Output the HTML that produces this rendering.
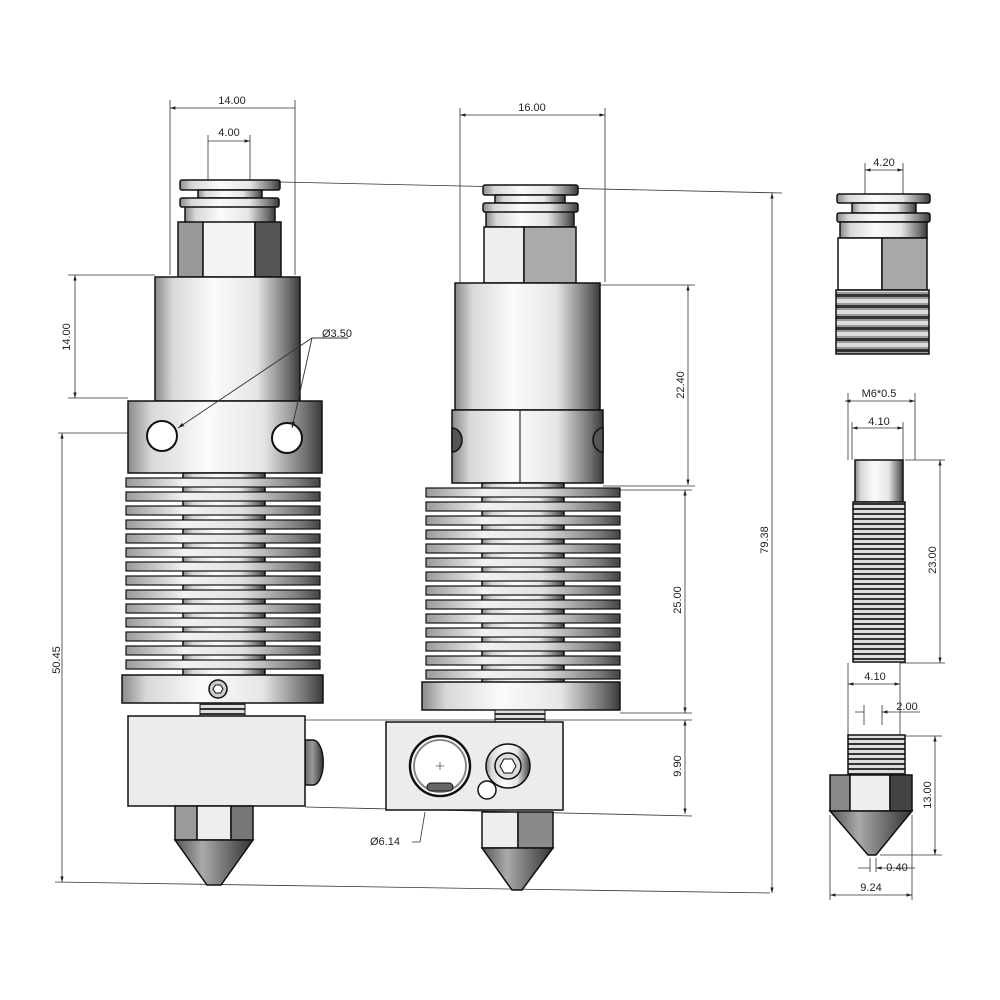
<!DOCTYPE html>
<html><head><meta charset="utf-8"><style>
html,body{margin:0;padding:0;background:#fff}
svg{display:block}
text{font-family:"Liberation Sans",sans-serif;font-size:11px;fill:#222}
</style></head><body>
<svg width="1000" height="1000" viewBox="0 0 1000 1000" xmlns="http://www.w3.org/2000/svg">
<defs>
<linearGradient id="m" x1="0" x2="1" y1="0" y2="0">
<stop offset="0" stop-color="#8a8a8a"/><stop offset="0.12" stop-color="#d8d8d8"/><stop offset="0.4" stop-color="#fbfbfb"/><stop offset="0.7" stop-color="#e6e6e6"/><stop offset="0.92" stop-color="#6e6e6e"/><stop offset="1" stop-color="#3a3a3a"/>
</linearGradient>
<linearGradient id="f" x1="0" x2="1" y1="0" y2="0">
<stop offset="0" stop-color="#9a9a9a"/><stop offset="0.3" stop-color="#f2f2f2"/><stop offset="0.6" stop-color="#e0e0e0"/><stop offset="0.9" stop-color="#777"/><stop offset="1" stop-color="#444"/>
</linearGradient>
<linearGradient id="d" x1="0" x2="1" y1="0" y2="0">
<stop offset="0" stop-color="#666"/><stop offset="0.4" stop-color="#999"/><stop offset="1" stop-color="#333"/>
</linearGradient>
<linearGradient id="cone" x1="0" x2="1"><stop offset="0" stop-color="#555"/><stop offset="0.35" stop-color="#aaa"/><stop offset="1" stop-color="#333"/></linearGradient>
<pattern id="thr" width="10" height="5" patternUnits="userSpaceOnUse"><rect width="10" height="5" fill="#ddd"/><rect y="3" width="10" height="2" fill="#333"/></pattern>
<pattern id="thr2" width="10" height="11" patternUnits="userSpaceOnUse"><rect width="10" height="11" fill="#999"/><rect y="2" width="10" height="4" fill="#ddd"/><rect y="8" width="10" height="3" fill="#333"/></pattern>
<marker id="a" viewBox="0 0 10 10" refX="10" refY="5" markerWidth="7" markerHeight="7" orient="auto-start-reverse"><path d="M0,2 L10,5 L0,8z" fill="#222"/></marker>
</defs>

<g stroke="#333" stroke-width="0.8" fill="none">
<path d="M170 100V275M295 100V275M208 135V180M250 135V180"/>
<path d="M170 108H295M208 141H250" marker-start="url(#a)" marker-end="url(#a)"/>
<path d="M68 275H155M68 398H128"/>
<path d="M75 275V398" marker-start="url(#a)" marker-end="url(#a)"/>
<path d="M58 433H128"/>
<path d="M62 433V882" marker-start="url(#a)" marker-end="url(#a)"/>
<path d="M55 882L770 893"/>
<path d="M280 182L782 193"/>
<path d="M772 193V893" marker-start="url(#a)" marker-end="url(#a)"/>
<path d="M460 108V285M605 108V282"/>
<path d="M460 115H605" marker-start="url(#a)" marker-end="url(#a)"/>
<path d="M600 285H695M603 486H695M620 490H692M620 713H692"/>
<path d="M688 285V485" marker-start="url(#a)" marker-end="url(#a)"/>
<path d="M685 490V713" marker-start="url(#a)" marker-end="url(#a)"/>
<path d="M305 720H692M305 807L692 816"/>
<path d="M685 720V814" marker-start="url(#a)" marker-end="url(#a)"/>
<path d="M412 842H420L425 812"/>
<path d="M865 163V194M903 163V194"/>
<path d="M865 170H903" marker-start="url(#a)" marker-end="url(#a)"/>
<path d="M848 393V460M915 393V460M852 422V460M903 422V460"/>
<path d="M845 401H915" marker-start="url(#a)" marker-end="url(#a)"/>
<path d="M852 428H903" marker-start="url(#a)" marker-end="url(#a)"/>
<path d="M905 460H945M900 663H945"/>
<path d="M940 460V663" marker-start="url(#a)" marker-end="url(#a)"/>
<path d="M848 663V735M900 663V735"/>
<path d="M848 684H900" marker-start="url(#a)" marker-end="url(#a)"/>
<path d="M864 705V725M882 705V725"/>
<path d="M855 712H864M892 712H882" marker-end="url(#a)"/>
<path d="M892 712H920"/>
<path d="M905 736H942M880 855H942"/>
<path d="M935 736V855" marker-start="url(#a)" marker-end="url(#a)"/>
<path d="M870 858V872M876 858V872"/>
<path d="M858 868H870M888 868H876" marker-end="url(#a)"/>
<path d="M888 868H915"/>
<path d="M830 815V900M912 815V900"/>
<path d="M830 895H912" marker-start="url(#a)" marker-end="url(#a)"/>
</g>

<g>
<text x="232" y="104" text-anchor="middle">14.00</text>
<text x="229" y="136" text-anchor="middle">4.00</text>
<text transform="translate(70,337) rotate(-90)" text-anchor="middle">14.00</text>
<text x="322" y="337">Ø3.50</text>
<text transform="translate(60,660) rotate(-90)" text-anchor="middle">50.45</text>
<text transform="translate(768,540) rotate(-90)" text-anchor="middle">79.38</text>
<text x="532" y="111" text-anchor="middle">16.00</text>
<text transform="translate(684,385) rotate(-90)" text-anchor="middle">22.40</text>
<text transform="translate(681,600) rotate(-90)" text-anchor="middle">25.00</text>
<text transform="translate(681,766) rotate(-90)" text-anchor="middle">9.90</text>
<text x="370" y="845">Ø6.14</text>
<text x="884" y="166" text-anchor="middle">4.20</text>
<text x="879" y="397" text-anchor="middle">M6*0.5</text>
<text x="879" y="425" text-anchor="middle">4.10</text>
<text transform="translate(936,560) rotate(-90)" text-anchor="middle">23.00</text>
<text x="875" y="680" text-anchor="middle">4.10</text>
<text x="907" y="710" text-anchor="middle">2.00</text>
<text transform="translate(931,795) rotate(-90)" text-anchor="middle">13.00</text>
<text x="897" y="871" text-anchor="middle">0.40</text>
<text x="871" y="891" text-anchor="middle">9.24</text>
</g>

<!-- LEFT ASSEMBLY -->
<g stroke="#111" stroke-width="1.5">
<rect x="185" y="205" width="90" height="18" fill="url(#m)"/>
<rect x="180" y="180" width="100" height="10" rx="2" fill="url(#m)"/>
<rect x="198" y="190" width="64" height="8" fill="url(#m)"/>
<rect x="180" y="198" width="99" height="9" rx="2" fill="url(#m)"/>
<rect x="178" y="222" width="25" height="55" fill="#999"/>
<rect x="203" y="222" width="52" height="55" fill="#f3f3f3"/>
<rect x="255" y="222" width="26" height="55" fill="#555"/>
<rect x="155" y="277" width="145" height="124" fill="url(#m)"/>
<rect x="128" y="401" width="194" height="72" fill="url(#m)"/>
<circle cx="162" cy="436" r="15" fill="#fff" stroke-width="2"/>
<circle cx="287" cy="438" r="15" fill="#fff" stroke-width="2"/>
<rect x="183" y="473" width="82" height="205" fill="url(#m)"/>
</g>
<g stroke="#111" stroke-width="1.2" fill="url(#f)">
<rect x="126" y="478" width="194" height="9"/><rect x="126" y="492" width="194" height="9"/><rect x="126" y="506" width="194" height="9"/><rect x="126" y="520" width="194" height="9"/><rect x="126" y="534" width="194" height="9"/><rect x="126" y="548" width="194" height="9"/><rect x="126" y="562" width="194" height="9"/><rect x="126" y="576" width="194" height="9"/><rect x="126" y="590" width="194" height="9"/><rect x="126" y="604" width="194" height="9"/><rect x="126" y="618" width="194" height="9"/><rect x="126" y="632" width="194" height="9"/><rect x="126" y="646" width="194" height="9"/><rect x="126" y="660" width="194" height="9"/>
</g>
<g stroke="#111" stroke-width="1.5">
<rect x="122" y="675" width="201" height="28" fill="url(#m)"/>
<circle cx="218" cy="689" r="9" fill="#ccc"/>
<path d="M213 689l2.5-4h5l2.5 4-2.5 4h-5z" fill="#fff" stroke-width="1"/>
<rect x="200" y="703" width="45" height="13" fill="url(#thr)" stroke-width="1"/>
<path d="M305 740h8a10 22 0 0 1 0 45h-8z" fill="url(#d)"/>
<rect x="128" y="716" width="177" height="90" fill="#ececec"/>
<rect x="175" y="806" width="22" height="34" fill="#9a9a9a"/>
<rect x="197" y="806" width="34" height="34" fill="#eee"/>
<rect x="231" y="806" width="22" height="34" fill="#777"/>
<path d="M175 840h78l-32 45h-14z" fill="url(#cone)"/>
</g>

<!-- MIDDLE ASSEMBLY -->
<g stroke="#111" stroke-width="1.5">
<rect x="486" y="205" width="88" height="22" fill="url(#m)"/>
<rect x="483" y="185" width="95" height="10" rx="2" fill="url(#m)"/>
<rect x="495" y="195" width="70" height="8" fill="url(#m)"/>
<rect x="483" y="203" width="95" height="9" rx="2" fill="url(#m)"/>
<rect x="484" y="227" width="40" height="56" fill="#eee"/>
<rect x="524" y="227" width="52" height="56" fill="#aaa"/>
<rect x="455" y="283" width="145" height="127" fill="url(#m)"/>
<rect x="452" y="410" width="151" height="73" fill="url(#m)"/>
<path d="M452 428a10 12 0 0 1 0 24z" fill="#555"/>
<path d="M603 428a10 12 0 0 0 0 24z" fill="#555"/>
<path d="M520 410V483" stroke-width="1"/>
<rect x="482" y="483" width="82" height="200" fill="url(#m)"/>
</g>
<g stroke="#111" stroke-width="1.2" fill="url(#f)">
<rect x="426" y="488" width="194" height="9"/><rect x="426" y="502" width="194" height="9"/><rect x="426" y="516" width="194" height="9"/><rect x="426" y="530" width="194" height="9"/><rect x="426" y="544" width="194" height="9"/><rect x="426" y="558" width="194" height="9"/><rect x="426" y="572" width="194" height="9"/><rect x="426" y="586" width="194" height="9"/><rect x="426" y="600" width="194" height="9"/><rect x="426" y="614" width="194" height="9"/><rect x="426" y="628" width="194" height="9"/><rect x="426" y="642" width="194" height="9"/><rect x="426" y="656" width="194" height="9"/><rect x="426" y="670" width="194" height="9"/>
</g>
<g stroke="#111" stroke-width="1.5">
<rect x="422" y="682" width="198" height="28" fill="url(#m)"/>
<rect x="495" y="710" width="50" height="12" fill="url(#thr)" stroke-width="1"/>
<rect x="386" y="722" width="177" height="88" fill="#ececec"/>
<circle cx="440" cy="766" r="30" fill="#fff" stroke-width="2.5"/>
<circle cx="440" cy="766" r="26" fill="none" stroke="#888" stroke-width="2"/>
<rect x="427" y="783" width="26" height="8" rx="4" fill="#666" stroke-width="1"/>
<path d="M436 766h8M440 762v8" stroke="#555" stroke-width="0.8"/>
<circle cx="487" cy="790" r="9" fill="#fff"/>
<circle cx="508" cy="766" r="22" fill="url(#m)"/>
<circle cx="508" cy="766" r="13" fill="#ddd"/>
<path d="M500 766l4-7h8l4 7-4 7h-8z" fill="#fff" stroke-width="1"/>
<rect x="482" y="812" width="36" height="36" fill="#eee"/>
<rect x="518" y="812" width="35" height="36" fill="#8a8a8a"/>
<path d="M482 848h71l-31 42h-10z" fill="url(#cone)"/>
</g>

<!-- RIGHT PARTS -->
<g stroke="#111" stroke-width="1.5">
<rect x="837" y="194" width="93" height="9" rx="2" fill="url(#m)"/>
<rect x="852" y="203" width="64" height="10" fill="url(#m)"/>
<rect x="837" y="213" width="93" height="9" rx="2" fill="url(#m)"/>
<rect x="840" y="222" width="87" height="16" fill="url(#m)"/>
<rect x="838" y="238" width="44" height="52" fill="#fff"/>
<rect x="882" y="238" width="45" height="52" fill="#a8a8a8"/>
<rect x="836" y="290" width="93" height="64" fill="url(#thr2)"/>
<rect x="855" y="460" width="48" height="42" fill="url(#m)"/>
<rect x="853" y="502" width="52" height="160" fill="url(#thr)"/>
<rect x="848" y="735" width="57" height="40" fill="url(#thr)"/>
<rect x="830" y="775" width="20" height="36" fill="#888"/>
<rect x="850" y="775" width="40" height="36" fill="#eee"/>
<rect x="890" y="775" width="22" height="36" fill="#444"/>
<path d="M830 811h82l-36 44h-8z" fill="url(#cone)"/>
</g>

<!-- leaders on top -->
<g stroke="#333" stroke-width="0.9" fill="none">
<path d="M348 338H312L178 428" marker-end="url(#a)"/>
<path d="M312 338L292 428" marker-end="url(#a)"/>
</g>
</svg>
</body></html>
